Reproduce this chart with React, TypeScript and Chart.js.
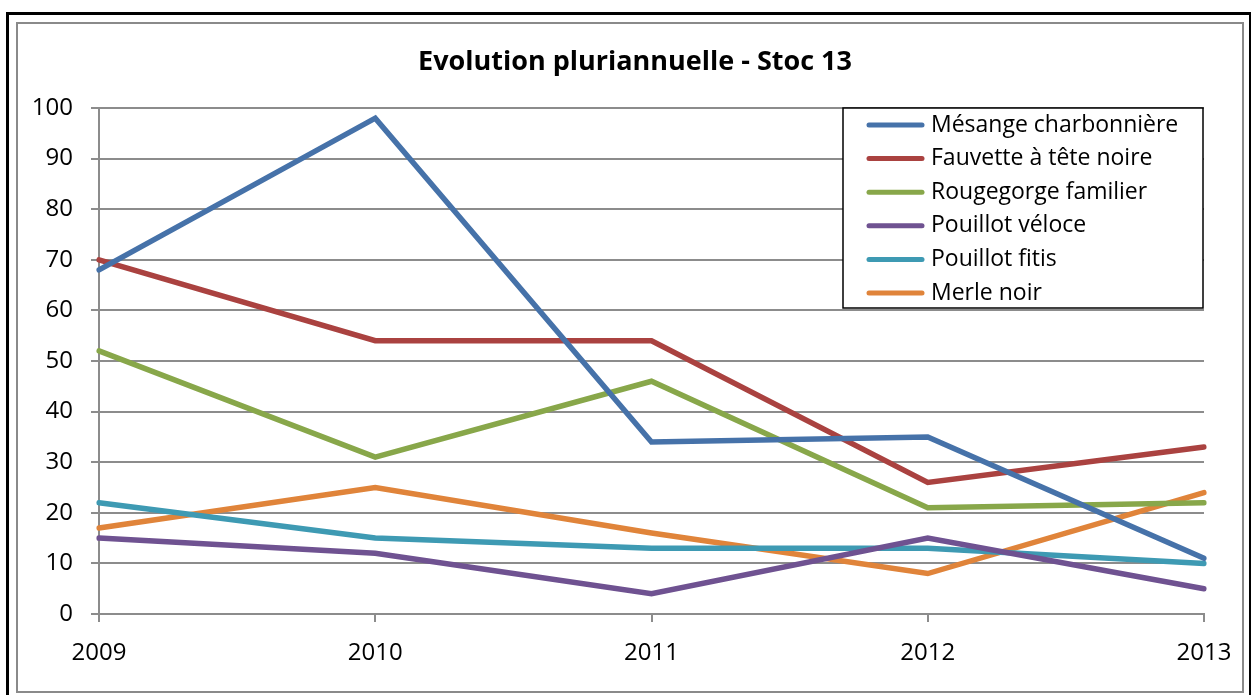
import React, { useEffect, useRef } from "react";
import { Chart, registerables } from "chart.js";

Chart.register(...registerables);

const years = ["2009", "2010", "2011", "2012", "2013"];
const mesange = [68, 98, 34, 35, 11];
const fauvette = [70, 54, 54, 26, 33];
const rougegorge = [52, 31, 46, 21, 22];
const pouillotVeloce = [15, 12, 4, 15, 5];
const pouillotFitis = [22, 15, 13, 13, 10];
const merle = [17, 25, 16, 8, 24];

const seriesNames = [
  "Mésange charbonnière",
  "Fauvette à tête noire",
  "Rougegorge familier",
  "Pouillot véloce",
  "Pouillot fitis",
  "Merle noir",
];
const seriesValues = [mesange, fauvette, rougegorge, pouillotVeloce, pouillotFitis, merle];
const seriesColors = ["#4672A9", "#AA4240", "#88A74A", "#6F5291", "#3E9AB3", "#E0843A"];

const titleText = "Evolution pluriannuelle - Stoc 13";
const FONT = "'Open Sans', 'DejaVu Sans', sans-serif";
const GRID = "#8c8c8c";

const framePlugin = {
  id: "frame",
  beforeDraw(chart: any) {
    const ctx = chart.ctx;
    ctx.save();
    ctx.fillStyle = "#ffffff";
    ctx.fillRect(0, 0, chart.width, chart.height);
    ctx.strokeStyle = "#000000";
    ctx.lineWidth = 3;
    ctx.strokeRect(7.5, 13.5, 1243, 690);
    ctx.strokeStyle = "#8a8a8a";
    ctx.lineWidth = 2;
    ctx.strokeRect(17, 23, 1226, 669);
    ctx.restore();
  },
};

const legendPlugin = {
  id: "boxLegend",
  afterDatasetsDraw(chart: any) {
    const ctx = chart.ctx;
    const x0 = 843;
    const y0 = 108;
    const w = 360;
    const h = 200;
    ctx.save();
    ctx.fillStyle = "#ffffff";
    ctx.fillRect(x0, y0, w, h);
    ctx.strokeStyle = "#000000";
    ctx.lineWidth = 1.5;
    ctx.strokeRect(x0, y0, w, h);
    ctx.font = `23px ${FONT}`;
    ctx.textBaseline = "middle";
    ctx.textAlign = "left";
    chart.data.datasets.forEach((ds: any, i: number) => {
      const y = y0 + 17 + i * 33.6;
      ctx.strokeStyle = ds.borderColor;
      ctx.lineWidth = 5;
      ctx.lineCap = "round";
      ctx.beginPath();
      ctx.moveTo(869, y);
      ctx.lineTo(922, y);
      ctx.stroke();
      ctx.fillStyle = "#000000";
      ctx.fillText(ds.label, 931, y);
    });
    ctx.restore();
  },
};

export default function App() {
  const ref = useRef<HTMLCanvasElement | null>(null);

  useEffect(() => {
    document.body.style.margin = "0";
    if (!ref.current) return;
    const chart = new Chart(ref.current, {
      type: "line",
      data: {
        labels: years,
        datasets: seriesNames.map((name, i) => ({
          label: name,
          data: seriesValues[i],
          borderColor: seriesColors[i],
          backgroundColor: seriesColors[i],
          borderWidth: 5.5,
          pointRadius: 0,
          tension: 0,
          fill: false,
          borderCapStyle: "round" as const,
          borderJoinStyle: "miter" as const,
        })),
      },
      options: {
        animation: false,
        responsive: false,
        layout: { padding: { left: 20, right: 1, top: 0, bottom: 0 } },
        plugins: {
          legend: { display: false },
          tooltip: { enabled: false },
          title: {
            display: true,
            text: titleText,
            color: "#000000",
            font: { family: FONT, size: 27, weight: "bold", lineHeight: 1.2 },
            padding: { top: 46.5, bottom: 29.1 },
          },
        },
        scales: {
          x: {
            type: "category",
            offset: false,
            afterFit(scale: any) {
              scale.height = 81;
            },
            grid: {
              display: true,
              drawOnChartArea: false,
              drawTicks: true,
              tickLength: 8,
              color: GRID,
              lineWidth: 2,
            },
            border: { display: true, color: GRID, width: 2 },
            ticks: {
              color: "#000000",
              font: { family: FONT, size: 24 },
              padding: 17,
              maxRotation: 0,
            },
          },
          y: {
            min: 0,
            max: 100,
            afterFit(scale: any) {
              scale.width = 79;
            },
            grid: {
              color: GRID,
              lineWidth: 2,
              tickLength: 8,
              drawTicks: true,
            },
            border: { display: true, color: GRID, width: 2 },
            ticks: {
              stepSize: 10,
              color: "#000000",
              font: { family: FONT, size: 24 },
              padding: 18,
            },
          },
          spacer: {
            type: "linear",
            position: "right",
            display: true,
            afterFit(scale: any) {
              scale.width = 46;
            },
            grid: { display: false, drawOnChartArea: false, drawTicks: false },
            border: { display: false },
            ticks: { display: false },
          },
        },
      },
      plugins: [framePlugin, legendPlugin],
    });
    return () => chart.destroy();
  }, []);

  return (
    <div style={{ width: 1251, height: 695 }}>
      <canvas ref={ref} width={1251} height={695} style={{ display: "block" }} />
    </div>
  );
}
